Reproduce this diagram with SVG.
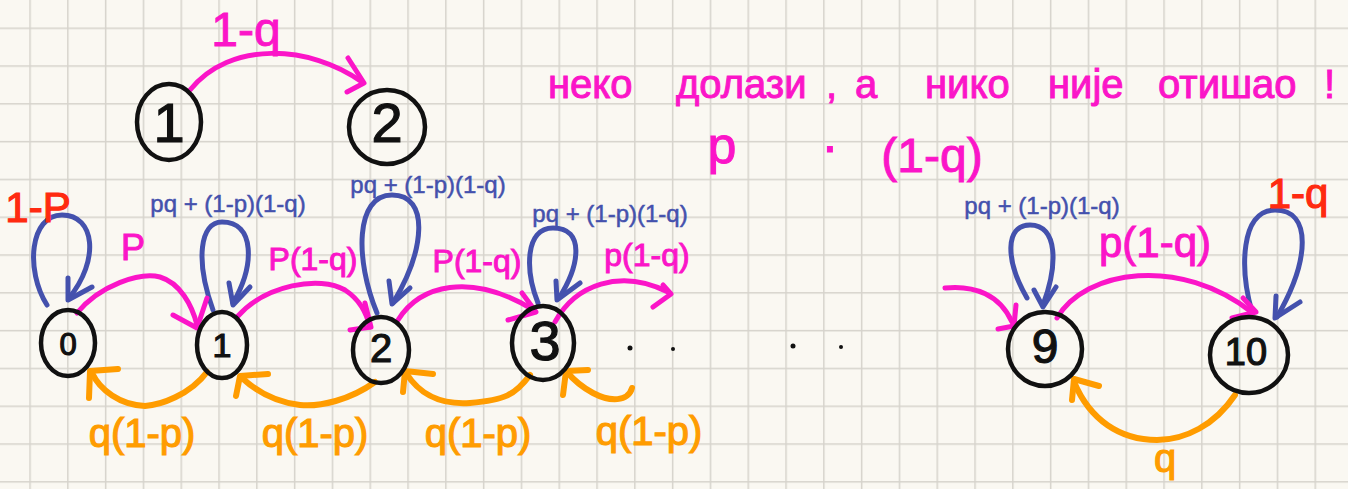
<svg xmlns="http://www.w3.org/2000/svg" width="1348" height="489" viewBox="0 0 1348 489">
<defs>
<pattern id="grid" patternUnits="userSpaceOnUse" x="29.3" y="27.5" width="37.8" height="37.8">
<rect x="0" y="0" width="1.5" height="37.8" fill="#d6d3cc"/>
<rect x="0" y="0" width="37.8" height="1.5" fill="#d6d3cc"/>
</pattern>
<style>
.node ellipse{fill:none;stroke:#111;stroke-width:4.5}
.node text{font-family:"Liberation Sans",Arial,sans-serif;font-size:36px;fill:#111;stroke:#111;stroke-width:1.2;text-anchor:middle}
.c{fill:none;stroke-linecap:round;stroke-linejoin:round}
.pink{stroke:#fb15c8;stroke-width:5}
.blue{stroke:#4451ad;stroke-width:5}
.orange{stroke:#ff9c00;stroke-width:6}
.lbl{font-family:"Liberation Sans",Arial,sans-serif;text-anchor:middle}
.lp{fill:#fb15c8;stroke:#fb15c8;stroke-width:1}
.lb{fill:#4451ad;stroke:#4451ad;stroke-width:0.5;font-size:24px}
.lo{fill:#ff9c00;stroke:#ff9c00;stroke-width:1.2;font-size:40px}
.lr{fill:#ff2a10;stroke:#ff2a10;stroke-width:1.2;font-size:42px}
</style>
</defs>
<rect width="1348" height="489" fill="#faf8f2"/>
<rect width="1348" height="489" fill="url(#grid)"/>

<g id="connectors">
<!-- top 1 -> 2 -->
<path class="c pink" stroke-width="6" d="M190 90 C 230 40, 310 45, 362 82"/>
<path class="c pink" stroke-width="6" d="M348 58 L364 83 L347 92"/>
<!-- self loops -->
<path class="c blue" d="M47 305 C 25 270, 30 215, 62 215 C 95 215, 100 260, 69 298"/>
<path class="c blue" d="M68 278 L68 300 L92 287"/>
<path class="c blue" d="M213 310 C 195 260, 200 222, 222 222 C 255 222, 255 265, 233 303"/>
<path class="c blue" d="M229 283 L233 305 L250 287"/>
<path class="c blue" d="M377 313 C 355 260, 355 195, 392 195 C 430 195, 425 250, 393 303"/>
<path class="c blue" d="M389 281 L392 304 L410 288"/>
<path class="c blue" d="M538 303 C 525 270, 525 228, 553 228 C 585 228, 580 265, 559 298"/>
<path class="c blue" d="M556 281 L557 300 L580 283"/>
<path class="c blue" d="M1027 298 C 1005 260, 1005 225, 1030 225 C 1058 225, 1058 265, 1043 305"/>
<path class="c blue" d="M1034 290 L1043 307 L1056 287"/>
<path class="c blue" d="M1252 312 C 1240 270, 1240 210, 1275 210 C 1312 210, 1310 260, 1277 317"/>
<path class="c blue" d="M1276 296 L1275 318 L1300 302"/>
<!-- forward pink -->
<path class="c pink" d="M77 313 C 100 285, 140 272, 160 277 C 180 283, 192 305, 197 325"/>
<path class="c pink" d="M173 315 L197 328 L207 298"/>
<path class="c pink" d="M237 317 C 265 285, 320 275, 345 290 C 360 300, 366 312, 370 327"/>
<path class="c pink" d="M350 330 L371 327 L365 303"/>
<path class="c pink" d="M398 320 C 420 285, 470 272, 532 309"/>
<path class="c pink" d="M508 320 L536 312 L522 293"/>
<path class="c pink" d="M555 322 C 575 285, 620 268, 668 292"/>
<path class="c pink" d="M653 307 L671 294 L663 285"/>
<path class="c pink" d="M945 288 C 975 285, 1000 295, 1012 322"/>
<path class="c pink" d="M998 329 L1014 326 L1016 305"/>
<path class="c pink" d="M1057 318 C 1085 270, 1180 255, 1253 313"/>
<path class="c pink" d="M1232 318 L1256 312 L1243 298"/>
<!-- backward orange -->
<path class="c orange" d="M207 372 C 190 395, 160 405, 145 406 C 120 405, 100 390, 92 373"/>
<path class="c orange" d="M118 369 L90 371 L89 398"/>
<path class="c orange" d="M375 382 C 350 400, 320 407, 300 405 C 275 402, 255 390, 242 378"/>
<path class="c orange" d="M268 374 L240 376 L236 396"/>
<path class="c orange" d="M530 375 C 515 395, 505 400, 470 403 C 440 405, 420 395, 406 373"/>
<path class="c orange" d="M433 374 L405 371 L403 392"/>
<path class="c orange" d="M632 388 C 628 402, 610 402, 593 393 C 580 386, 572 378, 567 372"/>
<path class="c orange" d="M588 370 L566 371 L563 395"/>
<path class="c orange" d="M1235 395 C 1215 425, 1185 440, 1157 440 C 1120 440, 1090 420, 1074 382"/>
<path class="c orange" d="M1099 386 L1074 379 L1072 400"/>
</g>

<g id="node-top1" class="node"><ellipse cx="169" cy="122" rx="32" ry="38"/><text x="169" y="142" style="font-size:56px">1</text></g>
<g id="node-top2" class="node"><ellipse cx="387" cy="127" rx="38" ry="37"/><text x="387" y="142" style="font-size:56px">2</text></g>
<g id="node-0" class="node"><ellipse cx="68" cy="343" rx="27" ry="33"/><text x="68" y="355" style="font-size:31px">0</text></g>
<g id="node-1" class="node"><ellipse cx="222" cy="345" rx="25" ry="33"/><text x="222" y="357" style="font-size:34px">1</text></g>
<g id="node-2" class="node"><ellipse cx="381" cy="350" rx="28" ry="33"/><text x="381" y="362" style="font-size:40px">2</text></g>
<g id="node-3" class="node"><ellipse cx="543" cy="343" rx="31" ry="37"/><text x="545" y="360" style="font-size:56px">3</text></g>
<g id="node-9" class="node"><ellipse cx="1045" cy="349" rx="37" ry="37"/><text x="1045" y="363" style="font-size:48px">9</text></g>
<g id="node-10" class="node"><ellipse cx="1249" cy="355" rx="39" ry="38"/><text x="1246" y="365" style="font-size:38px">10</text></g>

<g id="ellipsis" fill="#111">
<circle cx="630" cy="348" r="2.5"/><circle cx="673" cy="349" r="2"/>
<circle cx="793" cy="346" r="2.5"/><circle cx="841" cy="347" r="2"/>
</g>

<g id="labels" class="lbl">
<text class="lp" x="246" y="46" font-size="48">1-q</text>
<text class="lr" x="38" y="222">1-P</text>
<text class="lp" x="133" y="260" font-size="36">P</text>
<text class="lb" x="228" y="212">pq + (1-p)(1-q)</text>
<text class="lb" x="428" y="193">pq + (1-p)(1-q)</text>
<text class="lb" x="610" y="222">pq + (1-p)(1-q)</text>
<text class="lb" x="1042" y="214">pq + (1-p)(1-q)</text>
<text class="lp" x="313" y="270" font-size="32">P(1-q)</text>
<text class="lp" x="477" y="272" font-size="32">P(1-q)</text>
<text class="lp" x="647" y="266" font-size="32">p(1-q)</text>
<text class="lp" x="1155" y="257" font-size="42">p(1-q)</text>
<text class="lr" x="1298" y="208" font-size="50">1-q</text>
<text class="lo" x="142" y="447">q(1-p)</text>
<text class="lo" x="315" y="447">q(1-p)</text>
<text class="lo" x="478" y="447">q(1-p)</text>
<text class="lo" x="649" y="445">q(1-p)</text>
<text class="lo" x="1165" y="472" font-size="44">q</text>
</g>

<g id="note" font-family="Liberation Sans, Arial, sans-serif" fill="#fb15c8" stroke="#fb15c8" stroke-width="1">
<text y="98" font-size="40"><tspan x="548">неко</tspan><tspan x="676">долази</tspan><tspan x="826">,</tspan><tspan x="855">а</tspan><tspan x="925">нико</tspan><tspan x="1048">није</tspan><tspan x="1158">отишао</tspan><tspan x="1324">!</tspan></text>
<text y="163" font-size="52" text-anchor="middle"><tspan x="722">p</tspan><tspan x="830">·</tspan></text>
<text x="932" y="172" font-size="48" text-anchor="middle">(1-q)</text>
</g>
</svg>
